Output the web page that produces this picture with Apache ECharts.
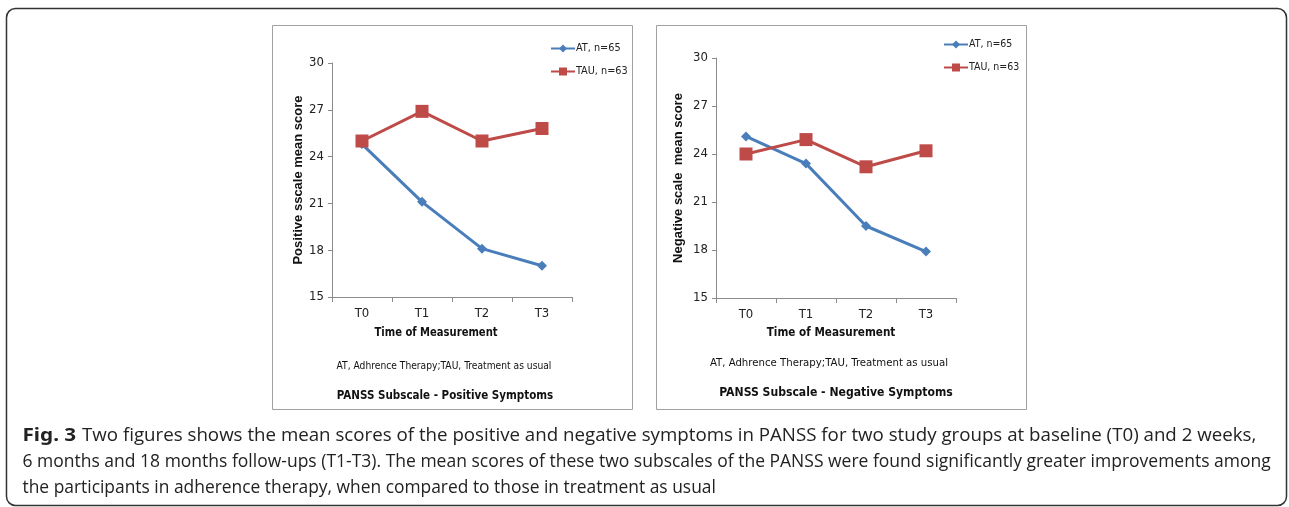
<!DOCTYPE html>
<html><head><meta charset="utf-8">
<script src="https://cdn.jsdelivr.net/npm/echarts@6/dist/echarts.min.js"></script>
<style>html,body{margin:0;padding:0;background:#fff}#c{width:1289px;height:507px}</style>
</head><body><div id="c"></div>
<script>
const categories = ['T0', 'T1', 'T2', 'T3'];
const posAT  = [24.8, 21.1, 18.1, 17.0];
const posTAU = [25.0, 26.9, 25.0, 25.8];
const negAT  = [25.1, 23.4, 19.5, 17.9];
const negTAU = [24.0, 24.9, 23.2, 24.2];
const seriesNames = ['AT, n=65', 'TAU, n=63'];
const yMin = 15, yMax = 30, yStep = 3;
const yNames = ['Positive sscale mean score', 'Negative scale  mean score'];
const xName = 'Time of Measurement';
const footnote = 'AT, Adhrence Therapy;TAU, Treatment as usual';
const panelTitles = ['PANSS Subscale - Positive Symptoms', 'PANSS Subscale - Negative Symptoms'];
const captionBold = 'Fig. 3';
const captionLines = [
  'Two figures shows the mean scores of the positive and negative symptoms in PANSS for two study groups at baseline (T0) and 2 weeks,',
  '6 months and 18 months follow-ups (T1-T3). The mean scores of these two subscales of the PANSS were found significantly greater improvements among',
  'the participants in adherence therapy, when compared to those in treatment as usual'
];

const BLUE = '#4a7ebb', RED = '#be4b48';
const narrow = '"DejaVu Sans Condensed", "Liberation Sans Narrow", sans-serif';
const capFont = '"Open Sans", sans-serif';
const chart = echarts.init(document.getElementById('c'));

function xAx(i){ return {
  type:'category', gridIndex:i, data:categories, boundaryGap:true,
  axisLine:{lineStyle:{color:'#8c8c8c', width:1}},
  axisTick:{show:true, inside:false, length:5, lineStyle:{color:'#8c8c8c'}},
  axisLabel:{color:'#222', fontFamily:narrow, fontSize:13, margin:10},
  splitLine:{show:false}
};}
function yAx(i, gap){ return {
  type:'value', gridIndex:i, min:yMin, max:yMax, interval:yStep,
  name:yNames[i], nameLocation:'middle', nameGap:gap, nameRotate:90,
  nameTextStyle:{fontFamily:'"Liberation Sans", Arial, sans-serif', fontWeight:'bold', fontSize:13, color:'#111'},
  axisLine:{show:true, lineStyle:{color:'#8c8c8c', width:1}},
  axisTick:{show:true, inside:false, length:4, lineStyle:{color:'#8c8c8c'}},
  axisLabel:{color:'#222', fontFamily:narrow, fontSize:13, margin:8},
  splitLine:{show:false}
};}
function ser(name, data, i, color, symbol, size){ return {
  name, type:'line', xAxisIndex:i, yAxisIndex:i, data,
  symbol, symbolSize:size, showSymbol:true,
  lineStyle:{color, width:3}, itemStyle:{color},
  emphasis:{disabled:true}, animation:false
};}
function leg(left, top, fs){ return {
  left, top, orient:'vertical', itemGap:12, itemWidth:24, itemHeight:10, padding:0,
  data:seriesNames, selectedMode:false,
  textStyle:{fontFamily:narrow, fontSize:fs, color:'#222', padding:[0,0,0,-4]}
};}
function txt(x, y, s, size, bold, sx){ return {
  type:'text', x, y, scaleX:sx||1, style:{text:s, fill:'#111', font:(bold?'bold ':'')+size+'px '+narrow, textAlign:'center', textVerticalAlign:'middle'}
};}

chart.setOption({
  animation:false,
  grid:[
    {left:332, top:63, width:240, height:234},
    {left:716, top:58, width:240, height:240}
  ],
  xAxis:[xAx(0), xAx(1)],
  yAxis:[yAx(0, 22), yAx(1, 31)],
  legend:[leg(550, 43, 10.8), leg(943, 39, 10.5)],
  series:[
    ser(seriesNames[0], posAT, 0, BLUE, 'diamond', 10),
    ser(seriesNames[1], posTAU, 0, RED, 'rect', 13),
    ser(seriesNames[0], negAT, 1, BLUE, 'diamond', 10),
    ser(seriesNames[1], negTAU, 1, RED, 'rect', 13)
  ],
  graphic:[
    {type:'rect', shape:{x:6.5, y:8.5, width:1280, height:497, r:9}, style:{fill:'none', stroke:'#333', lineWidth:1.5}, silent:true},
    {type:'rect', shape:{x:272.5, y:25.5, width:360, height:384}, style:{fill:'none', stroke:'#a0a0a0', lineWidth:1}, silent:true},
    {type:'rect', shape:{x:656.5, y:25.5, width:370, height:384}, style:{fill:'none', stroke:'#a0a0a0', lineWidth:1}, silent:true},
    txt(436, 333, xName, 12.5, true, 0.89),
    txt(831, 333, xName, 12.5, true, 0.93),
    txt(444, 366, footnote, 10.2, false),
    txt(829, 363, footnote, 11.3, false),
    txt(445, 396, panelTitles[0], 11.5, true),
    txt(836, 393, panelTitles[1], 12.1, true),
    {type:'text', x:22.5, y:436, scaleX:1.15, style:{text:captionBold, font:'bold 18px "Noto Sans", sans-serif', fill:'#222', textVerticalAlign:'middle'}},
    {type:'text', x:82, y:436, scaleX:1.069, style:{text:captionLines[0], font:'17.5px '+capFont, fill:'#222', textVerticalAlign:'middle'}},
    {type:'text', x:22.5, y:462, style:{text:captionLines[1], font:'17.5px '+capFont, fill:'#222', textVerticalAlign:'middle'}},
    {type:'text', x:22.5, y:488, style:{text:captionLines[2], font:'17.4px '+capFont, fill:'#222', textVerticalAlign:'middle'}}
  ]
});
</script></body></html>
